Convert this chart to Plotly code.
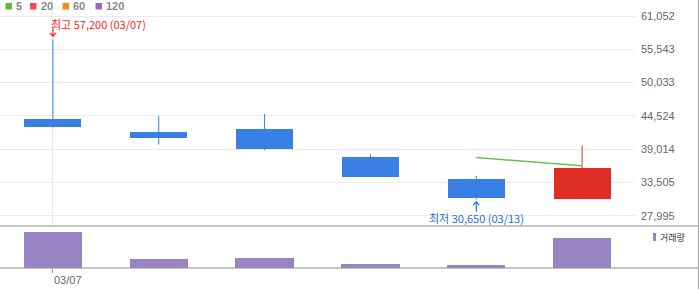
import plotly.graph_objects as go

# ---------------- data ----------------
dates = ["03/07", "03/08", "03/09", "03/10", "03/13", "03/14"]
opens = [44000, 41850, 42350, 37700, 34050, 30700]
highs = [57200, 44500, 44850, 38200, 34600, 39600]
lows = [42550, 39750, 38850, 34400, 30650, 30700]
closes = [42750, 40900, 39050, 34450, 30950, 35900]
volumes = [3600000, 900000, 1000000, 430000, 330000, 3030000]
price_ticks = [27995, 33505, 39014, 44524, 50033, 55543, 61052]
legend_items = ["5", "20", "60", "120"]
legend_colors = ["#5dbb3c", "#ef4b4b", "#f58a1f", "#9c60cf"]

UP = "#e12e25"
DOWN = "#397fe4"
VOL = "#9883c4"
MA5 = "#6cc24a"
HI_COL = "#ff1a1a"
LO_COL = "#2a6fd6"

# ---------------- geometry helpers ----------------
W, H = 700, 289
ML, MR, MT, MB = 0, 65, 0, 21
PW, PH = W - ML - MR, H - MT - MB


def px(x):
    return (x - ML) / PW


def py(y):
    return (H - MB - y) / PH


idx = list(range(len(dates)))
colors = [UP if c >= o else DOWN for o, c in zip(opens, closes)]

fig = go.Figure()

# candle bodies
fig.add_trace(go.Bar(
    x=idx, y=[abs(c - o) for o, c in zip(opens, closes)],
    base=[min(o, c) for o, c in zip(opens, closes)],
    width=0.54, marker=dict(color=colors, line=dict(width=0)),
    xaxis="x", yaxis="y", hoverinfo="skip", showlegend=False))

# wicks
for col in (UP, DOWN):
    wx, wy = [], []
    for i in idx:
        if colors[i] == col:
            wx += [i, i, None]
            wy += [lows[i], highs[i], None]
    fig.add_trace(go.Scatter(x=wx, y=wy, mode="lines",
                             line=dict(color=col, width=1),
                             xaxis="x", yaxis="y", hoverinfo="skip", showlegend=False))

# 5-period moving average
ma = []
for i in idx:
    if i >= 4:
        ma.append(sum(closes[i - 4:i + 1]) / 5)
    else:
        ma.append(None)
fig.add_trace(go.Scatter(x=idx, y=ma, mode="lines", line=dict(color=MA5, width=1.5),
                         xaxis="x", yaxis="y", hoverinfo="skip", showlegend=False,
                         connectgaps=False))

# volume
fig.add_trace(go.Bar(x=idx, y=volumes, width=0.55, marker=dict(color=VOL, line=dict(width=0)),
                     xaxis="x2", yaxis="y2", hoverinfo="skip", showlegend=False))

vol_top = 226
main_dom0 = py(vol_top)
ppp = (61052 - 27995) / (215.7 - 16)
y_top = 61052 + 16 * ppp
y_bot = 61052 - (vol_top - 16) * ppp

fig.update_layout(
    width=W, height=H,
    margin=dict(l=ML, r=MR, t=MT, b=MB, pad=0),
    paper_bgcolor="white", plot_bgcolor="white",
    bargap=0,
    font=dict(family="Liberation Sans, Arial, sans-serif", size=11, color="#666"),
    xaxis=dict(domain=[0, 1], range=[-0.5, 5.5], anchor="y", tickvals=[0],
               showticklabels=False, showgrid=True, gridcolor="#ebebeb", gridwidth=1,
               zeroline=False, showline=False, ticks=""),
    yaxis=dict(domain=[main_dom0, 1], range=[y_bot, y_top], side="right",
               tickvals=price_ticks, ticktext=[f"{v:,}" for v in price_ticks],
               showgrid=True, gridcolor="#ebebeb", gridwidth=1, zeroline=False,
               showline=False, ticks="", ticklabelstandoff=5,
               tickfont=dict(size=11, color="#666")),
    xaxis2=dict(domain=[0, 1], range=[-0.5, 5.5], anchor="y2", tickvals=[0],
                showticklabels=False, showgrid=False, zeroline=False, showline=False,
                ticks="outside", ticklen=4, tickcolor="#999", tickwidth=1),
    yaxis2=dict(domain=[0, main_dom0], range=[0, 4200000], showticklabels=False,
                showgrid=False, zeroline=False, showline=False, ticks=""),
)

shapes = []
# separators and right border
for yy in (226, 268):
    shapes.append(dict(type="line", xref="paper", yref="paper", x0=px(0), x1=px(698.5),
                       y0=py(yy), y1=py(yy), line=dict(color="#8c8c8c", width=1)))
shapes.append(dict(type="line", xref="paper", yref="paper", x0=px(698.5), x1=px(698.5),
                   y0=py(0), y1=py(289), line=dict(color="#a8a8a8", width=1)))

annotations = []
# top legend
leg_sq = [5.5, 30, 62.5, 95.5]
for name, col, sx in zip(legend_items, legend_colors, leg_sq):
    shapes.append(dict(type="rect", xref="paper", yref="paper", x0=px(sx), x1=px(sx + 6.5),
                       y0=py(9.5), y1=py(3), fillcolor=col, line=dict(width=0)))
    annotations.append(dict(xref="paper", yref="paper", x=px(sx + 8.5), y=py(6.5),
                            text=f"<b>{name}</b>", showarrow=False, xanchor="left", yanchor="middle",
                            font=dict(family="Liberation Sans, Arial, sans-serif", size=11, color="#8a8a8a")))

# volume legend
shapes.append(dict(type="rect", xref="paper", yref="paper", x0=px(653), x1=px(656),
                   y0=py(241), y1=py(233), fillcolor=VOL, line=dict(width=0)))
annotations.append(dict(xref="paper", yref="paper", x=px(657.5), y=py(237.5), text="거래량",
                        showarrow=False, xanchor="left", yanchor="middle",
                        font=dict(family="Noto Sans CJK KR", size=9, color="#333")))

# x label
annotations.append(dict(xref="x2", yref="paper", x=0, y=py(280), text=dates[0], showarrow=False,
                        xanchor="left", yanchor="middle", xshift=-1,
                        font=dict(family="Liberation Sans, Arial, sans-serif", size=11, color="#666")))

# high / low markers
hi_i = max(idx, key=lambda i: highs[i])
lo_i = min(idx, key=lambda i: lows[i])
# arrows drawn as pixel-sized paths anchored at the extreme points
shapes.append(dict(type="path", xref="x", yref="y", xsizemode="pixel", ysizemode="pixel",
                   xanchor=hi_i, yanchor=highs[hi_i],
                   path="M0,11 L0,3 M-3,6.5 L0,3 L3,6.5",
                   line=dict(color=HI_COL, width=1.2)))
shapes.append(dict(type="path", xref="x", yref="y", xsizemode="pixel", ysizemode="pixel",
                   xanchor=lo_i, yanchor=lows[lo_i],
                   path="M0,-12 L0,-2 M-3,-5.5 L0,-2 L3,-5.5",
                   line=dict(color=LO_COL, width=1.2)))
annotations.append(dict(xref="x", yref="paper", x=hi_i, y=py(23.5),
                        text=f"최고 {highs[hi_i]:,} ({dates[hi_i]})", showarrow=False,
                        xanchor="left", yanchor="middle", xshift=-4,
                        font=dict(family="Noto Sans CJK KR", size=11, color=HI_COL)))
annotations.append(dict(xref="x", yref="paper", x=lo_i, y=py(217.5),
                        text=f"최저 {lows[lo_i]:,} ({dates[lo_i]})", showarrow=False,
                        xanchor="center", yanchor="middle",
                        font=dict(family="Noto Sans CJK KR", size=11, color=LO_COL)))

fig.update_layout(shapes=shapes, annotations=annotations)
fig.write_html("out.html")
